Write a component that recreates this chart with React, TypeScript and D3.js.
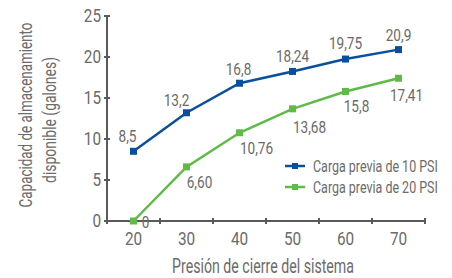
import React from "react";
import * as d3 from "d3";

const categories = ["20", "30", "40", "50", "60", "70"];
const series10 = [8.5, 13.2, 16.8, 18.24, 19.75, 20.9];
const series20 = [0, 6.6, 10.76, 13.68, 15.8, 17.41];
const labels10 = ["8,5", "13,2", "16,8", "18,24", "19,75", "20,9"];
const labels20 = ["0", "6,60", "10,76", "13,68", "15,8", "17,41"];
const yTicks = [0, 5, 10, 15, 20, 25];
const seriesNames = ["Carga previa de 10 PSI", "Carga previa de 20 PSI"];

const W = 452, H = 278;
const FONT = "Roboto, 'DejaVu Sans', sans-serif";
const BLUE = "#0a4f9e";
const GREEN = "#5dbb46";
const TXT = "#6b6b6b";
const AX = "#5a5a5a";

// label offsets (layout only)
const off10 = [[-6, -15], [-10, -13], [-1, -14], [0, -15], [0, -16], [0, -14]];
const off20 = [[12, 1], [13, 15], [17, 15], [17, 18], [11, 15], [8, 17]];

let ctx: CanvasRenderingContext2D | null = null;
function measure(s: string, size: number) {
  if (!ctx) ctx = document.createElement("canvas").getContext("2d");
  if (!ctx) return s.length * size * 0.5;
  ctx.font = `${size}px Roboto`;
  return ctx.measureText(s).width;
}

function T(props: { x: number; y: number; size: number; anchor?: string; sx?: number; fit?: number; rot?: number; children: string | number; dy?: string }) {
  const { x, y, size, anchor = "middle", fit, rot = 0, children, dy = "0.36em" } = props;
  let sx = props.sx ?? 0.86;
  if (fit) sx = fit / measure(String(children), size);
  return (
    <text transform={`translate(${x},${y}) rotate(${rot}) scale(${sx},1)`} dy={dy} textAnchor={anchor} fontSize={size} fill={TXT} fontFamily={FONT}>
      {children}
    </text>
  );
}

export default function App() {
  const x = d3.scaleBand().domain(categories).range([107, 425]);
  const y = d3.scaleLinear().domain([0, 25]).range([221, 16]);
  const cx = (c: string) => (x(c) as number) + x.bandwidth() / 2;
  const line = d3.line<number>().x((_, i) => cx(categories[i])).y((v) => y(v));
  const boundaries = d3.range(categories.length + 1).map((i) => 107 + i * x.bandwidth());
  const ms = 7;

  return (
    <svg width={W} height={H} style={{ position: "absolute", left: 0, top: 0, background: "#fff" }}>
      {/* y axis */}
      <line x1={107} x2={107} y1={y(25)} y2={y(0)} stroke={AX} strokeWidth={2} />
      {yTicks.map((t) => (
        <g key={t}>
          <line x1={104} x2={110} y1={y(t)} y2={y(t)} stroke={AX} strokeWidth={2} />
          <T x={101} y={y(t)} size={18} anchor="end" sx={0.85}>{t}</T>
        </g>
      ))}
      {/* x axis */}
      <line x1={107} x2={425} y1={y(0)} y2={y(0)} stroke={AX} strokeWidth={2} />
      {boundaries.map((b, i) => (
        <line key={i} x1={b} x2={b} y1={y(0) - 3} y2={y(0) + 3} stroke={AX} strokeWidth={2} />
      ))}
      {categories.map((c) => (
        <T key={c} x={cx(c)} y={y(0) + 18} size={18} sx={0.85}>{c}</T>
      ))}
      <T x={263} y={273} size={21} fit={182} dy="0">Presión de cierre del sistema</T>
      <T x={32} y={115} size={19} fit={185} rot={-90} dy="0">Capacidad de almacenamiento</T>
      <T x={56} y={120} size={19} fit={126} rot={-90} dy="0">disponible (galones)</T>

      {/* series */}
      <path d={line(series20) || ""} fill="none" stroke={GREEN} strokeWidth={2.5} />
      <path d={line(series10) || ""} fill="none" stroke={BLUE} strokeWidth={2.5} />
      {series20.map((v, i) => (
        <rect key={"g" + i} x={cx(categories[i]) - ms / 2} y={y(v) - ms / 2} width={ms} height={ms} fill={GREEN} />
      ))}
      {series10.map((v, i) => (
        <rect key={"b" + i} x={cx(categories[i]) - ms / 2} y={y(v) - ms / 2} width={ms} height={ms} fill={BLUE} />
      ))}
      {series10.map((v, i) => (
        <T key={"lb" + i} x={cx(categories[i]) + off10[i][0]} y={y(v) + off10[i][1]} size={16} sx={0.85}>{labels10[i]}</T>
      ))}
      {series20.map((v, i) => (
        <T key={"lg" + i} x={cx(categories[i]) + off20[i][0]} y={y(v) + off20[i][1]} size={16} sx={0.85}>{labels20[i]}</T>
      ))}

      {/* legend */}
      {[BLUE, GREEN].map((col, i) => (
        <g key={i}>
          <line x1={285} x2={305} y1={166 + i * 21} y2={166 + i * 21} stroke={col} strokeWidth={2.5} />
          <rect x={292} y={163 + i * 21} width={6} height={6} fill={col} />
          <T x={313} y={166 + i * 21} size={16} anchor="start" fit={125}>{seriesNames[i]}</T>
        </g>
      ))}
    </svg>
  );
}
